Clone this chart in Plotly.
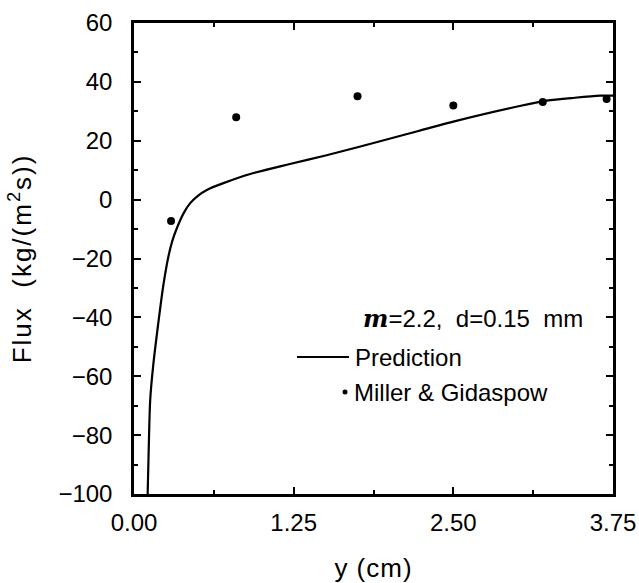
import plotly.graph_objects as go

# Prediction curve
pred_y_cm = [0.107, 0.115, 0.127, 0.15, 0.19, 0.23, 0.269, 0.30, 0.34, 0.39, 0.44, 0.50,
             0.57, 0.70, 0.91, 1.22, 1.50, 1.75, 2.08, 2.50, 3.02, 3.23, 3.45, 3.65, 3.75]
pred_flux = [-100, -85, -68, -56.5, -42, -29, -19.4, -14, -9.2, -4.5, -1.2, 1.3,
             3.3, 5.6, 8.7, 12.1, 15.0, 17.8, 21.6, 26.5, 31.8, 33.6, 34.6, 35.3, 35.3]

# Miller & Gidaspow data
exp_y_cm = [0.29, 0.80, 1.75, 2.5, 3.2, 3.7]
exp_flux = [-7.3, 28.0, 35.1, 32.0, 33.2, 34.2]

x_ticks = [0.0, 1.25, 2.50, 3.75]
y_ticks = [-100, -80, -60, -40, -20, 0, 20, 40, 60]

FONT = "Liberation Sans"
FS = 24
TITLE_FS = 26

# plot area in pixels (for placing the hand-drawn legend)
L, R, T, B = 134, 613, 23, 494
def px(x):
    return (x - L) / (R - L)
def py(y):
    return (B - y) / (B - T)

fig = go.Figure()
fig.add_trace(go.Scatter(x=pred_y_cm, y=pred_flux, mode="lines",
                         line=dict(color="black", width=2.2, shape="spline", smoothing=0.8),
                         name="Prediction", showlegend=False))
fig.add_trace(go.Scatter(x=exp_y_cm, y=exp_flux, mode="markers",
                         marker=dict(color="black", size=8),
                         name="Miller & Gidaspow", showlegend=False))

axis_common = dict(showgrid=False, zeroline=False, showline=True, linecolor="black",
                   linewidth=2.5, mirror="ticks", ticks="inside", ticklen=7, tickwidth=2,
                   tickcolor="black", tickfont=dict(family=FONT, size=FS, color="black"),
                   ticklabeloverflow="allow", automargin=False)

fig.update_xaxes(range=[0, 3.75], tickvals=x_ticks, ticktext=[f"{v:.2f}" for v in x_ticks],
                 minor=dict(ticks="inside", ticklen=4, tickwidth=2, tickcolor="black", dtick=0.625, tick0=0),
                 title=dict(text='<span style="letter-spacing:1px">y (cm)</span>',
                            font=dict(family=FONT, size=TITLE_FS, color="black"), standoff=40),
                 ticklabelstandoff=5,
                 **axis_common)
fig.update_yaxes(range=[-100, 60], tickvals=y_ticks,
                 minor=dict(ticks="inside", ticklen=4, tickwidth=2, tickcolor="black", dtick=10, tick0=0),
                 title=dict(text='<span style="letter-spacing:2px">Flux  (kg/(m<sup>2</sup>s))</span>',
                            font=dict(family=FONT, size=TITLE_FS, color="black"), standoff=20),
                 ticklabelstandoff=14,
                 **axis_common)

# legend drawn as annotations/shapes
LFS = 24
fig.add_annotation(xref="paper", yref="paper", x=px(361), y=py(318), xanchor="left", yanchor="middle",
                   text='<span style="font-family:DejaVu Serif;font-size:24px"><b><i>m</i></b></span>=2.2,  d=0.15  mm',
                   showarrow=False, font=dict(family=FONT, size=LFS, color="black"))
fig.add_shape(type="line", xref="paper", yref="paper", x0=px(297), x1=px(349),
              y0=py(357), y1=py(357), line=dict(color="black", width=2.2))
fig.add_annotation(xref="paper", yref="paper", x=px(353), y=py(357), xanchor="left", yanchor="middle",
                   text="Prediction", showarrow=False, font=dict(family=FONT, size=LFS, color="black"))
fig.add_shape(type="circle", xref="paper", yref="paper", x0=px(342.5), x1=px(347.5),
              y0=py(394.5), y1=py(389.5), fillcolor="black", line=dict(color="black", width=0))
fig.add_annotation(xref="paper", yref="paper", x=px(352), y=py(392), xanchor="left", yanchor="middle",
                   text="Miller &amp; Gidaspow", showarrow=False, font=dict(family=FONT, size=LFS, color="black"))

fig.update_layout(width=639, height=583, margin=dict(l=L, r=639 - R, t=T, b=583 - B),
                  plot_bgcolor="white", paper_bgcolor="white",
                  font=dict(family=FONT, color="black"))
fig.write_html("out.html", config={"displayModeBar": False},
               post_script="document.body.style.margin='0px';")
